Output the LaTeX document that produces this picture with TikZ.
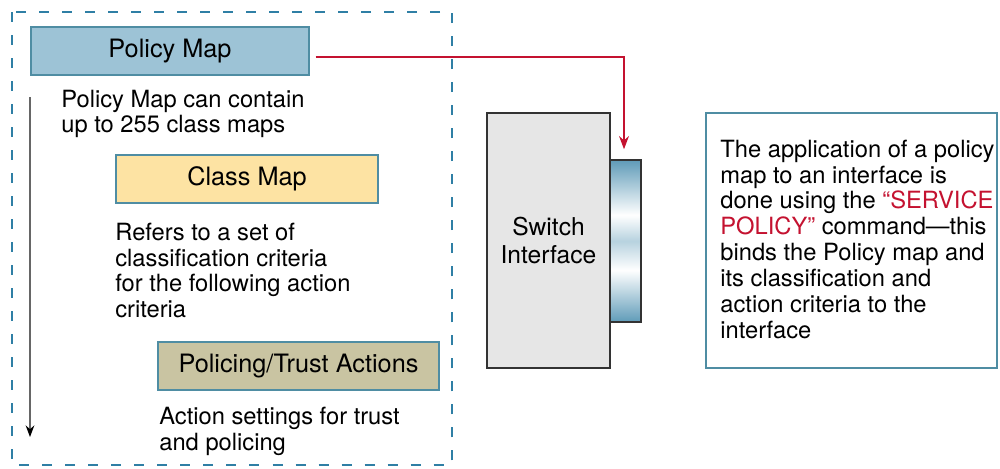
\documentclass[tikz,border=0pt]{standalone}
\usepackage{fontspec}
\setmainfont{TeX Gyre Heros}
\usetikzlibrary{arrows.meta}
\tikzset {>=Stealth}
\definecolor{dashblue}{HTML}{2F7FA5}
\definecolor{edgeteal}{HTML}{4F8DA3}
\definecolor{pmapfill}{HTML}{9DC3D6}
\definecolor{cmapfill}{HTML}{FDE3A3}
\definecolor{actfill}{HTML}{C9C4A2}
\definecolor{swgray}{HTML}{E6E6E6}
\definecolor{portblue}{HTML}{5F9BB8}
\definecolor{polred}{HTML}{C41230}
\pgfdeclareverticalshading{portshade}{100bp}{color(0bp)=(portblue); color(25bp)=(portblue);
  color(41bp)=(white); color(50bp)=(portblue!45); color(58bp)=(white);
  color(75bp)=(portblue); color(100bp)=(portblue)}

\begin{document}
\begin{tikzpicture}[x=0.02cm,y=-0.02cm,
  every node/.style={font=\fontsize{14}{16}\selectfont},
  titlebox/.style={draw=edgeteal,line width=0.8pt,minimum height=0.96cm,inner sep=0pt,
    font=\fontsize{14.4}{16}\selectfont},
  note/.style={align=left,anchor=north west,inner sep=0pt,font=\fontsize{13.5}{14.7}\selectfont}]
\useasboundingbox (0,0) rectangle (1000,468);
% dashed frame round the policy map
\draw[dashblue,line width=1.1pt,dash pattern=on 5.7pt off 7.4pt] (12,12) rectangle (452,465);

\node[titlebox,fill=pmapfill,minimum width=5.56cm] (pmap) at (170,51) {Policy Map};
\node[note] (pmaptxt) at (61,89.5) {Policy Map can contain\\up to 255 class maps};
\node[titlebox,fill=cmapfill,minimum width=5.24cm] (cmap) at (247,179) {Class Map};
\node[note] (cmaptxt) at (115,222.5) {Refers to a set of\\classification criteria\\for the following action\\criteria};
\node[titlebox,fill=actfill,minimum width=5.62cm] (acts) at (298.5,366) {Policing/Trust Actions};
\node[note] (actstxt) at (159,406.5) {Action settings for trust\\and policing};

\coordinate (flowtop) at (30,97);
\coordinate (flowend) at (30,437);
\draw[-{Stealth[black]},gray!80!black,line width=0.8pt] (flowtop) -- (flowend);

% switch and its port
\node[draw=black!80,fill=swgray,line width=0.9pt,minimum width=2.46cm,minimum height=5.1cm,
      align=center] (switch) at (548.5,240.5) {Switch\\Interface};
\node[draw=black!80,line width=0.9pt,shading=portshade,minimum width=0.62cm,minimum height=3.24cm,
      inner sep=0pt] (port) at (625.5,241) {};

\draw[->,polred,line width=1pt] ([xshift=0.12cm,yshift=-0.12cm]pmap.east) -| ([xshift=-0.03cm,yshift=0.2cm]port.north);

\node[draw=edgeteal,line width=0.9pt,minimum width=5.82cm,minimum height=5.1cm] (applybox) at (851.5,240.5) {};
\node[note] (applytxt) at (720,139.5) {The application of a policy\\map to an interface is\\
  done using the \textcolor{polred}{“SERVICE}\\\textcolor{polred}{POLICY”} command—this\\
  binds the Policy map and\\its classification and\\action criteria to the\\interface};
\end{tikzpicture}
\end{document}
